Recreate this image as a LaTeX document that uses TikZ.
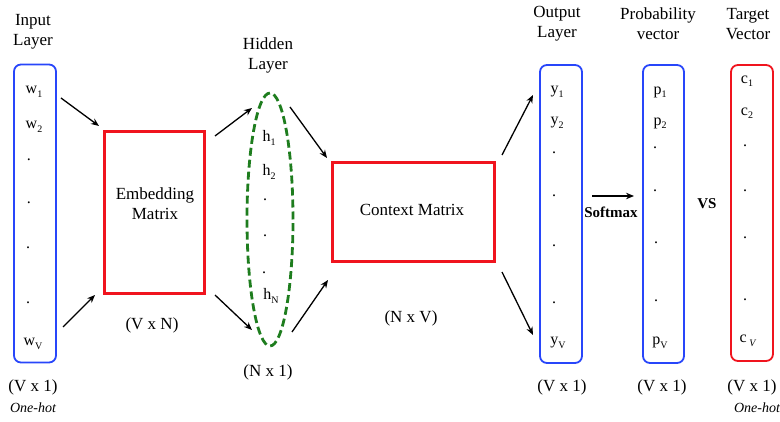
\documentclass[tikz,border=0pt]{standalone}
\usepackage{fontspec}
\setmainfont{Liberation Serif}
\usetikzlibrary{shapes.geometric,arrows.meta}
\definecolor{vblue}{RGB}{40,70,250}
\definecolor{vred}{RGB}{240,20,30}
\definecolor{vgreen}{RGB}{30,125,30}
\newcommand{\mysub}[1]{\raisebox{-3.5pt}{\fontsize{10}{10}\selectfont #1}}
\begin{document}
\begin{tikzpicture}[x=1pt,y=-1pt,
  bluebox/.style={draw=vblue,line width=1.8pt,rounded corners=7pt,minimum width=42pt,minimum height=298pt,inner sep=0pt},
  redbox/.style={draw=vred,line width=3pt,inner sep=0pt},
  redvec/.style={draw=vred,line width=1.8pt,rounded corners=7pt,minimum width=42pt,minimum height=296pt,inner sep=0pt},
  hidell/.style={ellipse,draw=vgreen,line width=2.8pt,dash pattern=on 8pt off 4pt,minimum width=46pt,minimum height=253pt,inner sep=0pt},
  lbl/.style={font=\fontsize{17}{20}\selectfont,align=center,inner sep=0pt},
  ent/.style={font=\fontsize{16}{18}\selectfont,inner sep=0pt},
  dot/.style={font=\fontsize{16}{18}\selectfont,inner sep=0pt},
  sm/.style={font=\fontsize{14}{16}\selectfont\itshape,inner sep=0pt},
  bld/.style={font=\fontsize{15}{17}\selectfont\bfseries,inner sep=0pt},
  arr/.style={line width=1.3pt,-{Stealth[length=8pt,width=6.5pt]}}]
\useasboundingbox (0,0) rectangle (780,422);

% boxes
\node[bluebox] (inp) at (35,213.5) {};
\node[redbox,minimum width=100pt,minimum height=162pt] (emb) at (154,213) {};
\node[hidell] (hid) at (270,219.5) {};
\node[redbox,minimum width=162pt,minimum height=99pt] (ctx) at (413,212.5) {};
\node[bluebox] (out) at (561,214) {};
\node[bluebox,minimum width=41pt] (prob) at (663.5,214) {};
\node[redvec] (tgt) at (752,213) {};

% headers
\node[lbl] (hin) at (33,32) {Input\\Layer};
\node[lbl] (hhid) at (268,55) {Hidden\\Layer};
\node[lbl] (hout) at (557,24) {Output\\Layer};
\node[lbl] (hprob) at (658,24) {Probability\\vector};
\node[lbl] (htgt) at (748,24) {Target\\Vector};

% inner text
\node[lbl] (embt) at (155,204) {Embedding\\Matrix};
\node[lbl] (ctxt) at (412,210) {Context Matrix};

% dimensions
\node[lbl] (din) at (33,387) {(V x 1)};
\node[sm] (ohin) at (33,408) {One-hot};
\node[lbl] (demb) at (152,325) {(V x N)};
\node[lbl] (dhid) at (268,372) {(N x 1)};
\node[lbl] (dctx) at (411,318) {(N x V)};
\node[lbl] (dout) at (562,387) {(V x 1)};
\node[lbl] (dprob) at (662,387) {(V x 1)};
\node[lbl] (dtgt) at (752,387) {(V x 1)};
\node[sm] (ohtgt) at (757,408) {One-hot};

% input entries
\node[ent] (w1) at (34,92) {w\mysub{1}};
\node[ent] (w2) at (34,127) {w\mysub{2}};
\node[dot] (wd1) at (29,160) {.};
\node[dot] (wd2) at (29,203) {.};
\node[dot] (wd3) at (28,248) {.};
\node[dot] (wd4) at (28,303) {.};
\node[ent] (wv) at (33,344) {w\mysub{V}};

% hidden entries
\node[ent] (h1) at (269,138) {h\mysub{1}};
\node[ent] (h2) at (269,172) {h\mysub{2}};
\node[dot] (hd1) at (265,200) {.};
\node[dot] (hd2) at (265,236) {.};
\node[dot] (hd3) at (264,273) {.};
\node[ent] (hn) at (271,296) {h\mysub{N}};

% output entries
\node[ent] (y1) at (557,92) {y\mysub{1}};
\node[ent] (y2) at (557,123) {y\mysub{2}};
\node[dot] (yd1) at (554,153) {.};
\node[dot] (yd2) at (554,196) {.};
\node[dot] (yd3) at (554,246) {.};
\node[dot] (yd4) at (554,303) {.};
\node[ent] (yv) at (558,343) {y\mysub{V}};

% probability entries
\node[ent] (p1) at (660,92) {p\mysub{1}};
\node[ent] (p2) at (660,123) {p\mysub{2}};
\node[dot] (pd1) at (655,148) {.};
\node[dot] (pd2) at (655,191) {.};
\node[dot] (pd3) at (656,243) {.};
\node[dot] (pd4) at (656,301) {.};
\node[ent] (pv) at (660,343) {p\mysub{V}};

% target entries
\node[ent] (c1) at (747,81) {c\mysub{1}};
\node[ent] (c2) at (747,113) {c\mysub{2}};
\node[dot] (cd1) at (745,146) {.};
\node[dot] (cd2) at (745,191) {.};
\node[dot] (cd3) at (745,238) {.};
\node[dot] (cd4) at (745,300) {.};
\node[ent] (cv) at (748,341) {c\,\mysub{\textit{V}}};

% softmax & vs
\node[bld] (smx) at (611,212) {Softmax};
\node[bld] (vs) at (707,204) {VS};

% arrow endpoints
\coordinate (a1s) at (61,98);   \coordinate (a1e) at (99,126);
\coordinate (a2s) at (63,327);  \coordinate (a2e) at (95,295);
\coordinate (a3s) at (215,136); \coordinate (a3e) at (252,108);
\coordinate (a4s) at (215,295); \coordinate (a4e) at (252,330);
\coordinate (a5s) at (290,107); \coordinate (a5e) at (327,158);
\coordinate (a6s) at (292,332); \coordinate (a6e) at (328,280);
\coordinate (a7s) at (502,155); \coordinate (a7e) at (533,95);
\coordinate (a8s) at (502,272); \coordinate (a8e) at (533,335);
\coordinate (a9s) at (592,196); \coordinate (a9e) at (634,196);

\draw[arr] (a1s) -- (a1e);
\draw[arr] (a2s) -- (a2e);
\draw[arr] (a3s) -- (a3e);
\draw[arr] (a4s) -- (a4e);
\draw[arr] (a5s) -- (a5e);
\draw[arr] (a6s) -- (a6e);
\draw[arr] (a7s) -- (a7e);
\draw[arr] (a8s) -- (a8e);
\draw[arr] (a9s) -- (a9e);
\end{tikzpicture}
\end{document}
